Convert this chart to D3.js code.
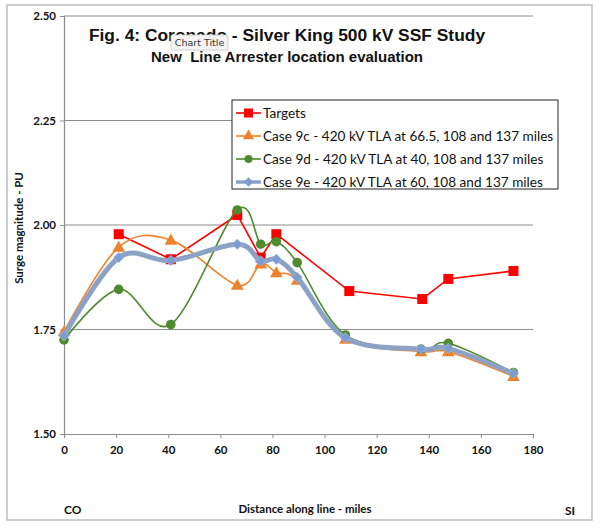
<!DOCTYPE html>
<html><head><meta charset="utf-8">
<script src="https://cdn.jsdelivr.net/npm/d3@7"></script>
<style>body{margin:0;background:#fff}svg{display:block}</style>
</head><body>
<svg id="c" width="600" height="530"></svg>
<script>
const miles = [0, 21, 41, 66.5, 75.5, 81.5, 89.5, 108, 137, 147.5, 172.5];
const targets = [null, 1.978, 1.918, 2.024, 1.922, 1.978, null, 1.842, 1.823, 1.871, 1.890];
const targetsMiles = [null, 21, 41, 66.5, 75.5, 81.5, null, 109.5, 137.5, 147.5, 172.5];
const case9c = [1.745, 1.947, 1.964, 1.856, 1.907, 1.886, 1.868, 1.727, 1.697, 1.697, 1.638];
const case9d = [1.725, 1.846, 1.762, 2.036, 1.954, 1.960, 1.910, 1.737, 1.703, 1.717, 1.647];
const case9e = [1.735, 1.922, 1.915, 1.954, 1.914, 1.918, 1.875, 1.730, 1.703, 1.705, 1.645];
const xTicks = [0, 20, 40, 60, 80, 100, 120, 140, 160, 180];
const yTicks = [1.50, 1.75, 2.00, 2.25, 2.50];
const seriesNames = ["Targets", "Case 9c - 420 kV TLA at 66.5, 108 and 137 miles",
  "Case 9d - 420 kV TLA at 40, 108 and 137 miles", "Case 9e - 420 kV TLA at 60, 108 and 137 miles"];

const svg = d3.select("#c");
const x = d3.scaleLinear().domain([0, 180]).range([64, 533]);
const y = d3.scaleLinear().domain([1.5, 2.5]).range([434, 16]);

// outer frame
svg.append("rect").attr("x", 7).attr("y", 5).attr("width", 585).attr("height", 515)
  .attr("fill", "#fff").attr("stroke", "#bdbdbd").attr("stroke-width", 1.5);

// gridlines
svg.append("g").selectAll("line").data(yTicks.slice(1)).join("line")
  .attr("x1", x(0)).attr("x2", x(180)).attr("y1", d => y(d)).attr("y2", d => y(d))
  .attr("stroke", "#8c8c8c").attr("stroke-width", 1);

// axes
const tickFont = "Lato, 'Noto Sans', sans-serif";
const gy = svg.append("g").attr("transform", `translate(${x(0)},0)`)
  .call(d3.axisLeft(y).tickValues(yTicks).tickFormat(d3.format(".2f")).tickSize(4).tickPadding(4));
const gx = svg.append("g").attr("transform", `translate(0,${y(1.5)})`)
  .call(d3.axisBottom(x).tickValues(xTicks).tickSize(4).tickPadding(8));
[gx, gy].forEach(g => {
  g.select(".domain").attr("stroke", "#8c8c8c").attr("stroke-width", 1.2);
  g.selectAll(".tick line").attr("stroke", "#8c8c8c");
  g.selectAll("text").attr("font-family", tickFont).attr("font-size", 11.5).attr("font-weight", "bold").attr("fill", "#111");
});

// lines
const curve = d3.curveCatmullRom.alpha(0);
function pts(vals, xs) { return vals.map((v, i) => ({x: xs[i], v})).filter(d => d.v !== null && d.x !== null); }
const lineStraight = d3.line().x(d => x(d.x)).y(d => y(d.v));
const lineSmooth = d3.line().x(d => x(d.x)).y(d => y(d.v)).curve(curve);

const red = "#ff0000", orange = "#f0812c", green = "#4e8a2e", blueLine = "#8ca2c4", blueMark = "#7d9dd2";

// Targets
const tp = pts(targets, targetsMiles);
svg.append("path").attr("d", lineStraight(tp)).attr("fill", "none").attr("stroke", red).attr("stroke-width", 1.6);
svg.append("g").selectAll("rect").data(tp).join("rect")
  .attr("x", d => x(d.x) - 5).attr("y", d => y(d.v) - 5).attr("width", 10).attr("height", 10).attr("fill", red);

// 9c
const cp = pts(case9c, miles);
svg.append("path").attr("d", lineSmooth(cp)).attr("fill", "none").attr("stroke", orange).attr("stroke-width", 1.6);
svg.append("g").selectAll("path").data(cp).join("path")
  .attr("d", d3.symbol(d3.symbolTriangle, 70)).attr("transform", d => `translate(${x(d.x)},${y(d.v) + 1})`).attr("fill", orange);

// 9d
const dp = pts(case9d, miles);
svg.append("path").attr("d", lineSmooth(dp)).attr("fill", "none").attr("stroke", green).attr("stroke-width", 1.6);
svg.append("g").selectAll("circle").data(dp).join("circle")
  .attr("cx", d => x(d.x)).attr("cy", d => y(d.v)).attr("r", 4.8).attr("fill", green);

// 9e
const ep = pts(case9e, miles);
svg.append("path").attr("d", lineSmooth(ep)).attr("fill", "none").attr("stroke", blueLine).attr("stroke-width", 5).attr("stroke-linejoin", "round");
svg.append("g").selectAll("path").data(ep).join("path")
  .attr("d", d3.symbol(d3.symbolDiamond2, 70)).attr("transform", d => `translate(${x(d.x)},${y(d.v)})`)
  .attr("fill", blueMark).attr("stroke", "#a9bde0").attr("stroke-width", 0.6);

// Title
const titleFont = "'Liberation Sans', Arial, sans-serif";
svg.append("text").attr("x", 287).attr("y", 41).attr("text-anchor", "middle")
  .attr("font-family", titleFont).attr("font-weight", "bold").attr("font-size", 17.4).attr("fill", "#111")
  .text("Fig. 4: Coronado - Silver King 500 kV SSF Study");
svg.append("text").attr("x", 287).attr("y", 62).attr("text-anchor", "middle")
  .attr("font-family", titleFont).attr("font-weight", "bold").attr("font-size", 15).attr("fill", "#111")
  .attr("xml:space", "preserve").style("white-space", "pre")
  .text("New  Line Arrester location evaluation");

// "Chart Title" tooltip
const tt = svg.append("g").attr("transform", "translate(171,35)");
tt.append("rect").attr("width", 57).attr("height", 15).attr("fill", "#f4f4f4").attr("stroke", "#c8c8c8").attr("stroke-width", 0.8).attr("rx", 1);
tt.append("text").attr("x", 28.5).attr("y", 11).attr("text-anchor", "middle")
  .attr("font-family", "'DejaVu Sans', sans-serif").attr("font-size", 9.5).attr("fill", "#333").text("Chart Title");

// Legend
const lg = svg.append("g");
lg.append("rect").attr("x", 232).attr("y", 100).attr("width", 326).attr("height", 89)
  .attr("fill", "#fff").attr("stroke", "#222").attr("stroke-width", 1);
const legFont = "Lato, 'Noto Sans', sans-serif";
const legColors = [red, orange, green, blueLine];
seriesNames.forEach((name, i) => {
  const yy = 113 + i * 23;
  lg.append("line").attr("x1", 236).attr("x2", 261).attr("y1", yy).attr("y2", yy)
    .attr("stroke", legColors[i]).attr("stroke-width", i === 3 ? 3.5 : 1.6);
  const mx = 248.5;
  if (i === 0) lg.append("rect").attr("x", mx - 4.5).attr("y", yy - 4.5).attr("width", 9).attr("height", 9).attr("fill", red);
  if (i === 1) lg.append("path").attr("d", d3.symbol(d3.symbolTriangle, 55)).attr("transform", `translate(${mx},${yy})`).attr("fill", orange);
  if (i === 2) lg.append("circle").attr("cx", mx).attr("cy", yy).attr("r", 4).attr("fill", green);
  if (i === 3) lg.append("path").attr("d", d3.symbol(d3.symbolDiamond2, 55)).attr("transform", `translate(${mx},${yy})`).attr("fill", blueMark);
  lg.append("text").attr("x", 263).attr("y", yy + 5).attr("font-family", legFont).attr("font-size", 13.6).attr("fill", "#111").text(name);
});

// Axis titles
svg.append("text").attr("transform", "translate(23,228) rotate(-90)").attr("text-anchor", "middle")
  .attr("font-family", tickFont).attr("font-weight", "bold").attr("font-size", 11.5).attr("fill", "#111")
  .text("Surge magnitude - PU");
svg.append("text").attr("x", 305).attr("y", 513).attr("text-anchor", "middle")
  .attr("font-family", tickFont).attr("font-weight", "bold").attr("font-size", 11.5).attr("fill", "#111")
  .text("Distance along line - miles");
svg.append("text").attr("x", 64).attr("y", 514).attr("font-family", tickFont).attr("font-weight", "bold").attr("font-size", 12).attr("fill", "#111").text("CO");
svg.append("text").attr("x", 565).attr("y", 515).attr("font-family", tickFont).attr("font-weight", "bold").attr("font-size", 12).attr("fill", "#111").text("SI");
</script>
</body></html>
